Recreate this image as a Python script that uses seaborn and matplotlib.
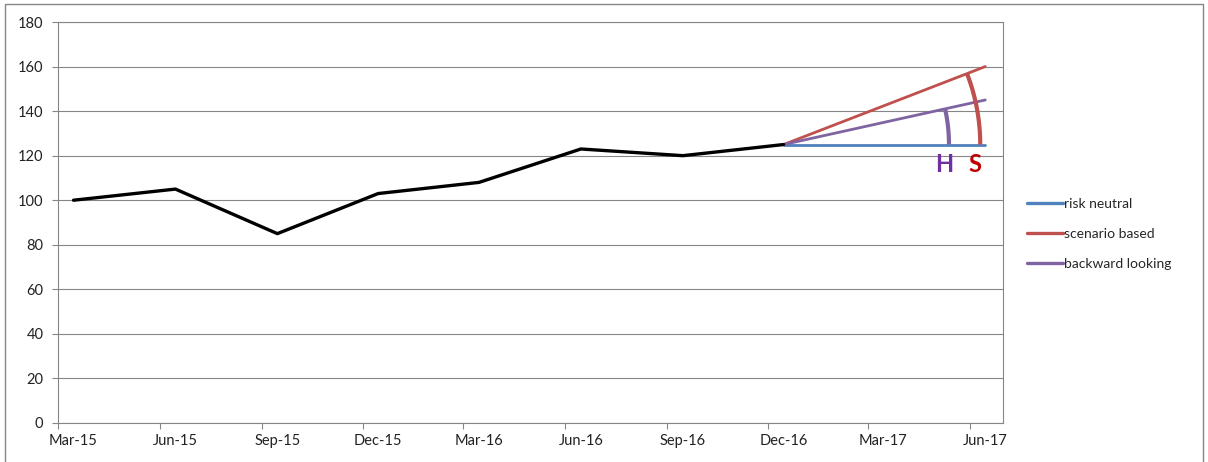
import numpy as np
import pandas as pd
import matplotlib
matplotlib.use("Agg")
import matplotlib.pyplot as plt
import matplotlib.dates as mdates
from matplotlib.patches import Rectangle
import seaborn as sns

# ---------------- data ----------------
hist_dates = ["2015-03-15", "2015-06-15", "2015-09-15", "2015-12-15",
              "2016-03-15", "2016-06-15", "2016-09-15", "2016-12-15"]
hist_values = [100, 105, 85, 103, 108, 123, 120, 125]

fc_dates = ["2016-12-15", "2017-06-15"]
scenario_names = ["risk neutral", "scenario based", "backward looking"]
risk_neutral = [125, 125]
scenario_based = [125, 160]
backward_looking = [125, 145]

tick_dates = ["2015-03-01", "2015-06-01", "2015-09-01", "2015-12-01", "2016-03-01",
              "2016-06-01", "2016-09-01", "2016-12-01", "2017-03-01", "2017-06-01"]
label_dates = ["2015-03-15", "2015-06-15", "2015-09-15", "2015-12-15", "2016-03-15",
               "2016-06-15", "2016-09-15", "2016-12-15", "2017-03-15", "2017-06-15"]
x_labels = ["Mar-15", "Jun-15", "Sep-15", "Dec-15", "Mar-16",
            "Jun-16", "Sep-16", "Dec-16", "Mar-17", "Jun-17"]
x_limits = ["2015-03-01", "2017-07-01"]
y_ticks = [0, 20, 40, 60, 80, 100, 120, 140, 160, 180]
arc_labels = ["H", "S"]

# ---------------- style ----------------
sns.set_style("white")
plt.rcParams["font.family"] = ["Lato", "DejaVu Sans"]
GRID = "#868686"
palette = {"risk neutral": "#4F81BD", "scenario based": "#C0504D",
           "backward looking": "#8064A2"}

W, H = 1208, 462
fig = plt.figure(figsize=(W / 100, H / 100), dpi=100)
ax = fig.add_axes([58 / W, 1 - 423 / H, (1003 - 58) / W, (423 - 22) / H])

hist = pd.DataFrame({"date": pd.to_datetime(hist_dates), "value": hist_values})
fc = pd.DataFrame({
    "date": pd.to_datetime(fc_dates * 3),
    "value": risk_neutral + scenario_based + backward_looking,
    "scenario": np.repeat(scenario_names, 2),
})

sns.lineplot(data=hist, x="date", y="value", color="black", lw=2.4, ax=ax,
             legend=False, zorder=4)
sns.lineplot(data=fc, x="date", y="value", hue="scenario", hue_order=scenario_names,
             palette=palette, lw=2.0, ax=ax, zorder=3)

ax.set_xlim(pd.to_datetime(x_limits[0]), pd.to_datetime(x_limits[1]))
ax.set_ylim(y_ticks[0], y_ticks[-1])
ax.set_yticks(y_ticks)
ax.set_xticks(pd.to_datetime(label_dates))
ax.set_xticklabels(x_labels)
ax.set_xticks(pd.to_datetime(tick_dates), minor=True)
ax.set_xlabel("")
ax.set_ylabel("")

ax.yaxis.grid(True, color=GRID, lw=0.8)
ax.xaxis.grid(False)
for s in ax.spines.values():
    s.set_color(GRID)
    s.set_linewidth(0.8)
ax.tick_params(axis="y", which="major", direction="out", length=4.5, width=0.8,
               color=GRID, labelsize=10.5, labelcolor="#222222", pad=6, left=True)
ax.tick_params(axis="x", which="major", length=0, labelsize=10.5,
               labelcolor="#222222", pad=8, bottom=True)
ax.tick_params(axis="x", which="minor", direction="out", length=4.5, width=0.8,
               color=GRID, bottom=True)

# ---------------- arcs H / S ----------------
trans = ax.transData
origin = trans.transform((mdates.date2num(pd.to_datetime(fc_dates[0])), risk_neutral[0]))
base_end = trans.transform((mdates.date2num(pd.to_datetime(fc_dates[1])), risk_neutral[1]))
fan_len = base_end[0] - origin[0]


def draw_arc(end_value, radius_frac, color, label, label_color):
    e = trans.transform((mdates.date2num(pd.to_datetime(fc_dates[1])), end_value))
    ang = np.arctan2(e[1] - origin[1], e[0] - origin[0])
    r = radius_frac * fan_len
    t = np.linspace(0, ang, 60)
    pts = np.column_stack([origin[0] + r * np.cos(t), origin[1] + r * np.sin(t)])
    d = trans.inverted().transform(pts)
    ax.plot(d[:, 0], d[:, 1], color=color, lw=3.0, solid_capstyle="butt", zorder=5)
    ax.annotate(label, xy=(d[0, 0], d[0, 1]), xytext=(-5, -20), textcoords="offset pixels",
                ha="center", va="center", fontsize=17, fontweight="bold", color=label_color)


draw_arc(backward_looking[1], 0.82, palette["backward looking"], arc_labels[0], "#7030A0")
draw_arc(scenario_based[1], 0.975, palette["scenario based"], arc_labels[1], "#C00000")

# ---------------- legend ----------------
handles, labels = ax.get_legend_handles_labels()
if ax.get_legend() is not None:
    ax.get_legend().remove()
for h in handles:
    h.set_linewidth(2.4)
fig.legend(handles, labels, loc="center left", bbox_to_anchor=(1027 / W, 1 - 234 / H),
           frameon=False, borderpad=0, borderaxespad=0, handlelength=2.6,
           handletextpad=0.1, labelspacing=1.3, fontsize=10)

# outer chart border
fig.patches.append(Rectangle((5 / W, -0.05), (1203 - 5) / W, 1.05 - 4 / H,
                             transform=fig.transFigure, fill=False,
                             edgecolor=GRID, lw=1.0))

fig.savefig("out.png", dpi=100)
